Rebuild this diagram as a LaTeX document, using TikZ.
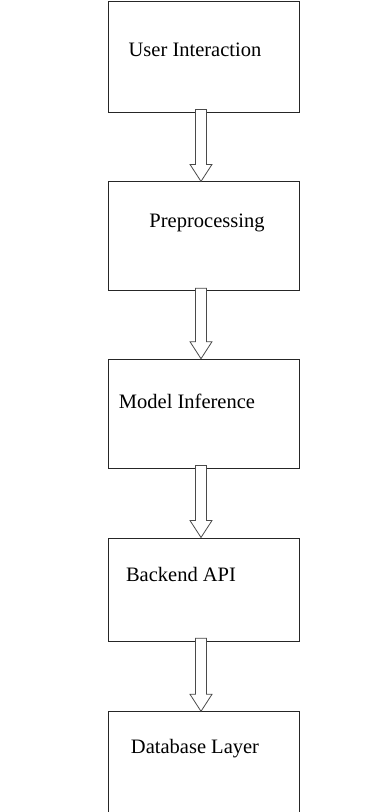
\documentclass[tikz,border=0pt]{standalone}
\usepackage{fontspec}
\setmainfont{Liberation Serif}
\usetikzlibrary{positioning,calc}
\definecolor{boxline}{HTML}{262626}
\definecolor{arrline}{HTML}{4A4A4A}
\tikzset{
  layer/.style={draw=boxline, line width=0.8pt, minimum width=191pt, minimum height=#1, inner sep=0pt},
  layer/.default=110pt,
  layertext/.style={font=\fontsize{20.5}{24}\selectfont, inner sep=0pt},
  hollowarr/.style={draw=arrline, line width=0.8pt, fill=white, line join=miter},
}
% hollow block arrow from the bottom of one layer to the top of the next
\newcommand{\blockarrow}[2]{%
  \draw[hollowarr] ($(#1.south)+(-8pt,3pt)$) -- ($(#2.north)+(-8pt,17pt)$)
    -- ($(#2.north)+(-13.5pt,17pt)$) -- ($(#2.north)+(-2.5pt,0pt)$)
    -- ($(#2.north)+(8.5pt,17pt)$) -- ($(#2.north)+(3pt,17pt)$)
    -- ($(#1.south)+(3pt,3pt)$) -- cycle;}

\begin{document}
\begin{tikzpicture}[node distance=69pt]
\useasboundingbox (0,0) rectangle (375pt,-812pt);

% ---- layers ----
\node[layer=111pt] (ui) at (203.5pt,-56.5pt) {};
\node[layer=109pt, below=of ui] (prep) {};
\node[layer=109pt, below=67.5pt of prep] (infer) {};
\node[layer=103pt, below=69pt of infer] (api) {};
\node[layer=103pt, below=70pt of api] (db) {};

% ---- labels ----
\node[layertext] (uitext) at ($(ui.center)+(-8.5pt,6.5pt)$) {User Interaction};
\node[layertext] (preptext) at ($(prep.center)+(3.5pt,13.5pt)$) {Preprocessing};
\node[layertext] (infertext) at ($(infer.center)+(-16.5pt,12.5pt)$) {Model Inference};
\node[layertext] (apitext) at ($(api.center)+(-22.5pt,14.5pt)$) {Backend API};
\node[layertext] (dbtext) at ($(db.center)+(-8.5pt,14.5pt)$) {Database Layer};

% ---- arrows ----
\blockarrow{ui}{prep}
\blockarrow{prep}{infer}
\blockarrow{infer}{api}
\blockarrow{api}{db}

\end{tikzpicture}
\end{document}
